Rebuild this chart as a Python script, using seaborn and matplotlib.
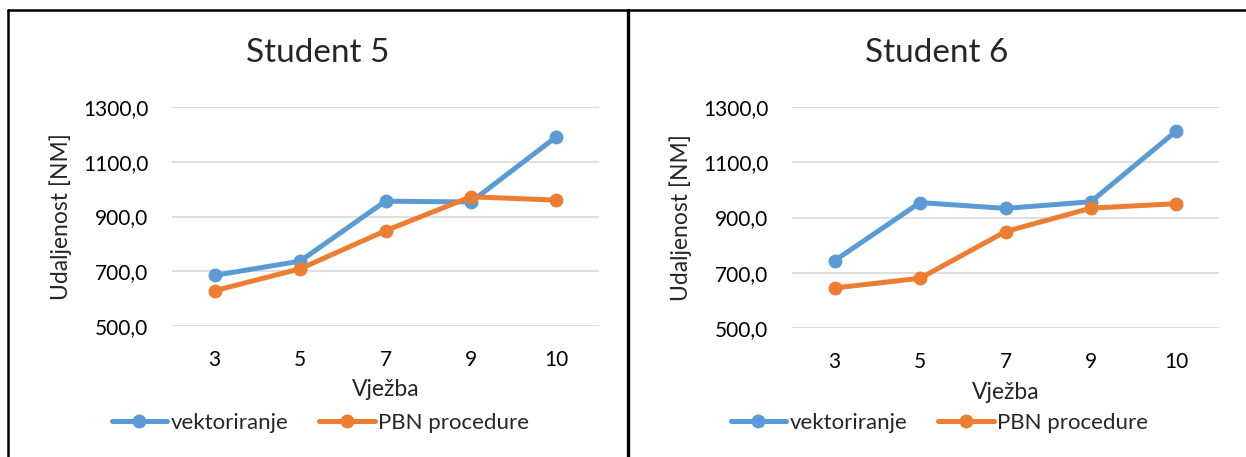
import pandas as pd
import matplotlib
matplotlib.use('Agg')
import matplotlib.pyplot as plt
from matplotlib.lines import Line2D
import seaborn as sns

# Data
vjezbe = ['3', '5', '7', '9', '10']
s5_vektoriranje = [685, 737, 956, 953, 1191]
s5_pbn = [629, 709, 848, 972, 960]
s6_vektoriranje = [744, 954, 933, 957, 1213]
s6_pbn = [645, 680, 849, 934, 950]
series_names = ['vektoriranje', 'PBN procedure']
y_ticks = [500, 700, 900, 1100, 1300]
y_tick_labels = ['500,0', '700,0', '900,0', '1100,0', '1300,0']

sns.set_style('white')
plt.rcParams['font.family'] = ['Lato', 'DejaVu Sans']

colors = {'vektoriranje': '#5B9BD5', 'PBN procedure': '#ED7D31'}

W, H = 1246, 457
fig = plt.figure(figsize=(W / 100, H / 100), dpi=100)


def make_df(vek, pbn):
    return pd.DataFrame({
        'Vježba': vjezbe * 2,
        'Udaljenost': vek + pbn,
        'serija': [series_names[0]] * len(vjezbe) + [series_names[1]] * len(vjezbe),
    })


panels = [
    ('Student 5', make_df(s5_vektoriranje, s5_pbn), (172, 107, 599, 326), 318),
    ('Student 6', make_df(s6_vektoriranje, s6_pbn), (792, 107, 1219, 328), 937),
]

for title, df, (x0, y0, x1, y1), cx in panels:
    ax = fig.add_axes([x0 / W, 1 - y1 / H, (x1 - x0) / W, (y1 - y0) / H])
    sns.lineplot(data=df, x='Vježba', y='Udaljenost', hue='serija',
                 palette=colors, marker='o', markersize=10, linewidth=3.6,
                 markeredgewidth=0, sort=False, ax=ax)
    ax.set_xlim(-0.5, len(vjezbe) - 0.5)
    ax.set_ylim(500, 1300)
    ax.set_yticks(y_ticks)
    ax.set_yticklabels(y_tick_labels)
    ax.yaxis.grid(True, color='#d9d9d9', linewidth=1.2)
    ax.set_axisbelow(True)
    for s in ax.spines.values():
        s.set_visible(False)
    ax.tick_params(axis='both', length=0, labelsize=15, colors='black')
    ax.tick_params(axis='x', pad=17)
    ax.tick_params(axis='y', pad=17)
    ax.set_xlabel('Vježba', fontsize=16.5)
    ax.set_ylabel('Udaljenost [NM]', fontsize=16.5)
    ax.xaxis.set_label_coords(0.5, -0.29)
    ax.xaxis.label.set_va('center')
    ax.yaxis.set_label_coords(-0.26, 0.5)
    ax.yaxis.label.set_va('center')

    handles, labels = ax.get_legend_handles_labels()
    ax.get_legend().remove()
    fig.legend(handles, labels, loc='center', bbox_to_anchor=(cx / W + 0.002, 1 - 423 / H),
               ncol=2, frameon=False, fontsize=16, handlelength=2.5,
               handletextpad=0.15, columnspacing=1.4)

    fig.text(cx / W, 1 - 53 / H, title, fontsize=24, ha='center', va='center')

# chart frames
fig.add_artist(Line2D([8 / W, 1], [1 - 9.5 / H] * 2, color='black', linewidth=1.8,
                      transform=fig.transFigure))
fig.add_artist(Line2D([8 / W] * 2, [0, 1 - 9.5 / H], color='black', linewidth=1.8,
                      transform=fig.transFigure))
fig.add_artist(Line2D([628 / W] * 2, [0, 1 - 9.5 / H], color='black', linewidth=2.4,
                      transform=fig.transFigure))

fig.savefig('out.png', dpi=100)
